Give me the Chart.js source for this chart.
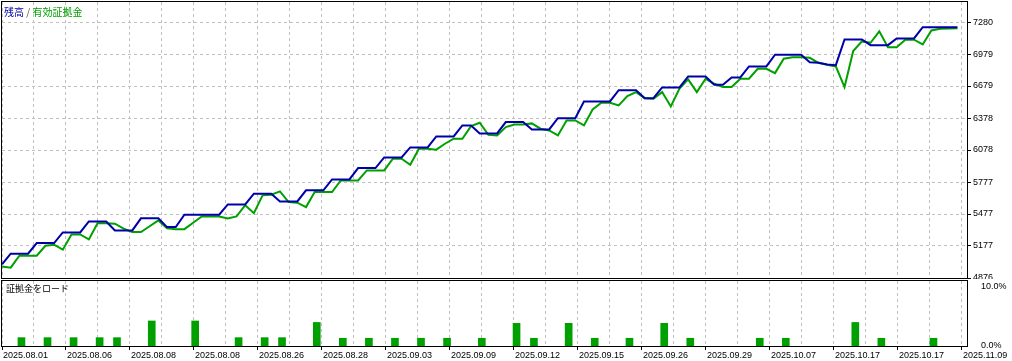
<!DOCTYPE html>
<html>
<head>
<meta charset="utf-8">
<script src="https://cdn.jsdelivr.net/npm/chart.js@4.4.1/dist/chart.umd.min.js"></script>
<style>
  body { margin: 0; background: #fff; }
  #wrap { position: relative; width: 1012px; height: 361px; background: #fff; overflow: hidden; }
  canvas { position: absolute; left: 0; }
  .caption { position: absolute; font-family: "Noto Sans CJK JP", sans-serif; white-space: nowrap; }
</style>
</head>
<body>
<div id="wrap">
  <canvas id="equity_Chart" width="1012" height="279" style="top:0"></canvas>
  <canvas id="load_Chart" width="1012" height="82" style="top:279px"></canvas>
  <div class="caption" style="left:4px;top:6px;font-size:10px;line-height:11px;">
    <span style="color:#0000a8">残高</span> <span style="color:#6a4a5a">/</span> <span style="color:#00a000">有効証拠金</span>
  </div>
  <div class="caption" style="left:6px;top:284px;font-size:9px;line-height:10px;color:#000;">証拠金をロード</div>
</div>
<script>

// x axis = deal number
const dateLabels = ["2025.08.01", "2025.08.06", "2025.08.08", "2025.08.08", "2025.08.26", "2025.08.28",
    "2025.09.03", "2025.09.09", "2025.09.12", "2025.09.15", "2025.09.26", "2025.09.29",
    "2025.10.07", "2025.10.17", "2025.10.17", "2025.11.09"];

const equityTicks = [4876, 5177, 5477, 5777, 6078, 6378, 6679, 6979, 7280];
const loadTicks = [0, 10];

const balance = [5004, 5104, 5104, 5104, 5204, 5204, 5204, 5304, 5304, 5304,
    5407, 5407, 5407, 5323, 5323, 5323, 5436, 5436, 5436, 5354,
    5354, 5470, 5470, 5470, 5470, 5470, 5567, 5567, 5567, 5668,
    5668, 5668, 5595, 5595, 5595, 5699, 5699, 5699, 5802, 5802,
    5802, 5908, 5908, 5908, 6008, 6008, 6008, 6102, 6102, 6102,
    6206, 6206, 6206, 6309, 6309, 6234, 6234, 6234, 6340, 6340,
    6340, 6271, 6271, 6271, 6377, 6377, 6377, 6534, 6534, 6534,
    6534, 6640, 6640, 6640, 6565, 6565, 6666, 6666, 6666, 6769,
    6769, 6769, 6691, 6691, 6760, 6760, 6863, 6863, 6863, 6973,
    6973, 6973, 6973, 6903, 6898, 6882, 6875, 7116, 7116, 7116,
    7063, 7063, 7063, 7126, 7126, 7126, 7232, 7232, 7232, 7232, 7232];

const equity = [4985, 4973, 5085, 5085, 5085, 5179, 5189, 5142, 5285, 5285,
    5238, 5391, 5391, 5386, 5339, 5307, 5307, 5362, 5417, 5342,
    5335, 5335, 5395, 5454, 5454, 5454, 5435, 5454, 5560, 5485,
    5652, 5658, 5689, 5589, 5583, 5542, 5683, 5683, 5683, 5792,
    5792, 5792, 5886, 5886, 5886, 5996, 5996, 5940, 6090, 6090,
    6081, 6137, 6184, 6184, 6302, 6334, 6220, 6215, 6293, 6318,
    6318, 6328, 6278, 6262, 6215, 6356, 6356, 6309, 6459, 6522,
    6522, 6497, 6584, 6622, 6565, 6560, 6622, 6487, 6654, 6741,
    6622, 6747, 6700, 6669, 6669, 6747, 6747, 6841, 6841, 6800,
    6935, 6950, 6950, 6944, 6897, 6879, 6863, 6669, 7007, 7098,
    7085, 7192, 7044, 7044, 7114, 7114, 7069, 7201, 7217, 7220, 7222];

const loadDeals = [2, 5, 8, 11, 13, 17, 22, 27, 30, 32, 36, 39, 42, 45, 48,
    51, 55, 59, 61, 65, 68, 72, 76, 79, 87, 90, 98, 101, 107];
const loadValues = [1.4, 1.4, 1.4, 1.4, 1.4, 4.2, 4.2, 1.4, 1.4, 1.4, 3.95, 1.3, 1.3, 1.3, 1.3,
    1.3, 1.3, 3.8, 1.3, 3.8, 1.3, 1.3, 3.8, 1.3, 1.3, 1.3, 3.95, 1.3, 1.3];


document.addEventListener("DOMContentLoaded", function() {

    const X_MAX = 111.1;        // deals across the plot width
    const GRID_STEP = 3.684;    // one dashed column
    const GRID_COLOR = '#c0c0c0';
    const BLUE = '#0000a8';
    const GREEN = '#00a000';

    Chart.defaults.font.family = "'Liberation Sans', Arial, sans-serif";
    Chart.defaults.font.size = 9;
    Chart.defaults.color = '#000';

    // black box round the plot area
    const framePlugin = {
        id: 'frame',
        afterDraw(chart) {
            const a = chart.chartArea;
            const c = chart.ctx;
            c.save();
            c.strokeStyle = '#000';
            c.lineWidth = 1;
            c.strokeRect(a.left - 0.5, a.top - 0.5, a.right - a.left + 1, a.bottom - a.top + 1);
            c.restore();
        }
    };

    function columnTicks(scale) {
        const t = [];
        for (let k = 0; k <= 30; k++) t.push({ value: k * GRID_STEP });
        scale.ticks = t;
    }

    function noPadding(scale) {
        scale.paddingLeft = 0;
        scale.paddingRight = 0;
        scale.paddingTop = 0;
        scale.paddingBottom = 0;
    }

    const ctx = document.getElementById('equity_Chart').getContext('2d');
    const equity_Chart = new Chart(ctx, {
        type: 'line',
        data: {
            datasets: [{
                label: '残高',
                data: balance.map((v, i) => ({ x: i, y: v })),
                borderColor: BLUE,
                borderWidth: 2,
                pointRadius: 0,
                fill: false,
                tension: 0
            },
            {
                label: '有効証拠金',
                data: equity.map((v, i) => ({ x: i, y: v })),
                borderColor: GREEN,
                borderWidth: 2,
                pointRadius: 0,
                fill: false,
                tension: 0
            }]
        },
        options: {
            responsive: false,
            animation: false,
            devicePixelRatio: 1,
            layout: { padding: { left: 2, top: 2, right: 0, bottom: 0 } },
            plugins: { legend: { display: false }, tooltip: { enabled: false } },
            scales: {
                x: {
                    type: 'linear',
                    min: 0,
                    max: X_MAX,
                    afterBuildTicks: columnTicks,
                    afterFit: function(scale) { scale.height = 1; noPadding(scale); },
                    ticks: { display: false },
                    grid: { color: GRID_COLOR, drawTicks: false },
                    border: { display: false, dash: [3, 3] }
                },
                y: {
                    position: 'right',
                    min: 4876,
                    max: 7468,
                    afterBuildTicks: function(scale) {
                        scale.ticks = equityTicks.map(v => ({ value: v }));
                    },
                    afterFit: function(scale) { scale.width = 45; noPadding(scale); },
                    ticks: {
                        padding: 2,
                        callback: function(value) { return String(value); }
                    },
                    grid: { color: GRID_COLOR, drawTicks: true, tickLength: 4, tickColor: '#000' },
                    border: { display: false, dash: [3, 3] }
                }
            }
        },
        plugins: [framePlugin]
    });


    const ctx2 = document.getElementById('load_Chart').getContext('2d');
    const load_Chart = new Chart(ctx2, {
        type: 'bar',
        data: {
            datasets: [{
                label: '証拠金をロード',
                data: loadDeals.map((n, i) => ({ x: n, y: loadValues[i] })),
                backgroundColor: GREEN,
                borderWidth: 0,
                barThickness: 7,
                xAxisID: 'xb',
                yAxisID: 'y'
            }]
        },
        options: {
            responsive: false,
            animation: false,
            devicePixelRatio: 1,
            layout: { padding: { left: 2, top: 2, right: 0, bottom: 0 } },
            plugins: { legend: { display: false }, tooltip: { enabled: false } },
            scales: {
                x: {
                    type: 'linear',
                    position: 'bottom',
                    min: 0,
                    max: X_MAX,
                    offset: false,
                    afterBuildTicks: columnTicks,
                    afterFit: function(scale) { scale.height = 15; noPadding(scale); },
                    ticks: {
                        autoSkip: false,
                        maxRotation: 0,
                        align: 'start',
                        padding: 0,
                        labelOffset: 1,
                        callback: function(value, index) {
                            return index % 2 === 0 ? dateLabels[index / 2] : '';
                        }
                    },
                    grid: {
                        color: GRID_COLOR,
                        offset: false,
                        drawTicks: true,
                        tickLength: 4,
                        tickColor: function(c) { return c.index % 2 === 0 ? '#000' : 'rgba(0,0,0,0)'; }
                    },
                    border: { display: false, dash: [3, 3] }
                },
                // bars sit a touch right of the deal point, as in the tester
                xb: {
                    type: 'linear',
                    display: false,
                    offset: false,
                    min: -0.24,
                    max: X_MAX - 0.24,
                    grid: { offset: false }
                },
                y: {
                    position: 'right',
                    min: 0,
                    max: 10.9,
                    afterBuildTicks: function(scale) {
                        scale.ticks = loadTicks.map(v => ({ value: v }));
                    },
                    afterFit: function(scale) { scale.width = 45; noPadding(scale); },
                    ticks: {
                        padding: 6,
                        callback: function(value) { return value.toFixed(1) + '%'; }
                    },
                    grid: { display: false },
                    border: { display: false }
                }
            }
        },
        plugins: [framePlugin]
    });

});

</script>
</body>
</html>
